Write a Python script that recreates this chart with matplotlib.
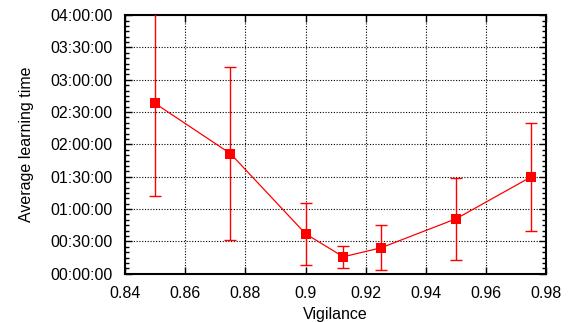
import matplotlib
matplotlib.use("Agg")
import matplotlib.pyplot as plt
from matplotlib.ticker import FuncFormatter, MultipleLocator

plt.rcParams['font.family'] = ['Liberation Sans', 'DejaVu Sans']

# vigilance values and average learning time (minutes) with error (minutes)
vigilance = [0.85, 0.875, 0.9, 0.9125, 0.925, 0.95, 0.975]
avg_time = [158, 111.5, 37, 15.7, 24, 51, 90]
err_time = [86, 80, 29, 10, 21, 38, 50]


def hms(v, pos):
    # minutes -> HH:MM:SS
    total = int(round(v * 60))
    h, rem = divmod(total, 3600)
    m, s = divmod(rem, 60)
    return "%02d:%02d:%02d" % (h, m, s)


fig = plt.figure(figsize=(5.71, 3.22), dpi=100)
ax = fig.add_axes([0.219, 0.150, 0.738, 0.803])

ax.errorbar(vigilance, avg_time, yerr=err_time, fmt='none', ecolor='#ff0000',
            elinewidth=1.0, capsize=4, capthick=1.0, zorder=3)
ax.plot(vigilance, avg_time, color='#ff0000', lw=0.9,
        marker='s', markersize=7, markeredgewidth=0, zorder=4)

ax.set_xlim(0.84, 0.98)
ax.set_ylim(0, 240)
ax.xaxis.set_major_locator(MultipleLocator(0.02))
ax.yaxis.set_major_locator(MultipleLocator(30))
ax.yaxis.set_minor_locator(MultipleLocator(5))
ax.yaxis.set_major_formatter(FuncFormatter(hms))
ax.xaxis.set_major_formatter(FuncFormatter(lambda v, p: ("%.2f" % v).rstrip('0')))

ax.tick_params(which='both', direction='in', top=True, right=True, labelsize=11.5)
ax.tick_params(axis='x', pad=9)
ax.tick_params(axis='y', pad=9)
ax.tick_params(which='major', length=5, width=1)
ax.tick_params(which='minor', length=3, width=1)
ax.grid(True, which='major', linestyle=(0, (1, 1.5)), color='black', linewidth=0.8)
for sp in ax.spines.values():
    sp.set_linewidth(1.5)

ax.set_xlabel("Vigilance", fontsize=11.5, labelpad=4)
ax.set_ylabel("Average learning time", fontsize=11.5, labelpad=12)

fig.savefig("out.png", dpi=100)
